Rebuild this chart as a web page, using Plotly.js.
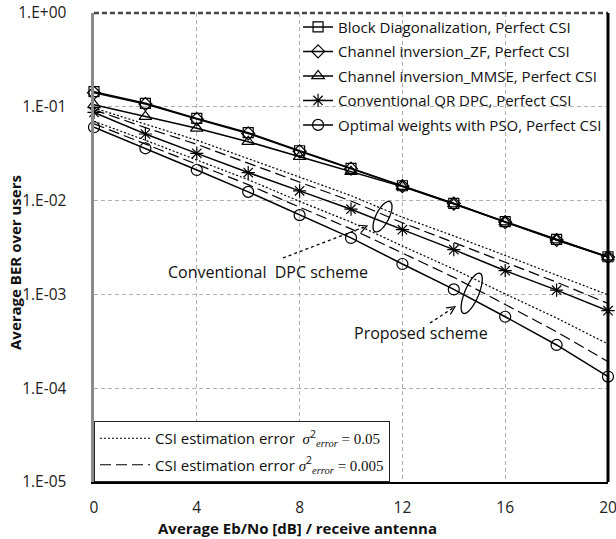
<!DOCTYPE html>
<html>
<head>
<meta charset="utf-8">
<script src="https://cdn.plot.ly/plotly-3.0.1.min.js"></script>
<style>html,body{margin:0;padding:0;background:#fff;}#chart{width:616px;height:539px;}</style>
</head>
<body>
<div id="chart"></div>
<script>
// ---- Data ----
const ebno = [0, 2, 4, 6, 8, 10, 12, 14, 16, 18, 20];
const berBD   = [0.145, 0.109, 0.0753, 0.053, 0.034, 0.0221, 0.0144, 0.00935, 0.00596, 0.00386, 0.00252];
const berZF   = [0.141, 0.107, 0.074, 0.052, 0.0335, 0.0219, 0.0143, 0.0093, 0.0059, 0.0038, 0.0025];
const berMMSE = [0.105, 0.0785, 0.059, 0.0425, 0.0294, 0.0203, 0.0141, 0.0092, 0.0059, 0.0038, 0.0025];
const berQR   = [0.087, 0.0513, 0.0319, 0.0199, 0.0127, 0.0081, 0.0049, 0.0030, 0.00179, 0.00111, 0.00067];
const berPSO  = [0.0605, 0.0361, 0.0212, 0.0124, 0.0070, 0.0040, 0.00211, 0.00113, 0.000578, 0.000289, 0.000133];
const berQR_err05   = [0.097, 0.065, 0.044, 0.028, 0.0178, 0.0113, 0.00665, 0.0042, 0.0026, 0.0016, 0.00099];
const berQR_err005  = [0.093, 0.060, 0.0398, 0.025, 0.0158, 0.0099, 0.0058, 0.0036, 0.0022, 0.00135, 0.0008];
const berPSO_err05  = [0.070, 0.044, 0.0271, 0.0167, 0.0098, 0.0059, 0.00328, 0.00186, 0.00101, 0.00056, 0.000296];
const berPSO_err005 = [0.066, 0.040, 0.0246, 0.0148, 0.0085, 0.0050, 0.00276, 0.00152, 0.00078, 0.0004, 0.000192];

const seriesNames = [
  'Block Diagonalization, Perfect CSI',
  'Channel inversion_ZF, Perfect CSI',
  'Channel inversion_MMSE, Perfect CSI',
  'Conventional QR DPC, Perfect CSI',
  'Optimal weights with PSO, Perfect CSI'
];
const errNames = [
  'CSI estimation error\u00a0 <i><span style="font-family:Liberation Serif">σ</span></i><sup>2</sup><sub><i><span style="font-family:Liberation Serif">error</span></i></sub><span style="font-family:Liberation Serif"> = 0.05</span>',
  'CSI estimation error\u00a0<i><span style="font-family:Liberation Serif">σ</span></i><sup>2</sup><sub><i><span style="font-family:Liberation Serif">error</span></i></sub><span style="font-family:Liberation Serif"> = 0.005</span>'
];
const yTickVals = [1, 0.1, 0.01, 0.001, 0.0001, 0.00001];
const yTickText = ['1.E+00', '1.E-01', '1.E-02', '1.E-03', '1.E-04', '1.E-05'];
const xTickVals = [0, 4, 8, 12, 16, 20];

// ---- Traces ----
const FONT = '"Open Sans", Lato, sans-serif';
const mk = (sym, size) => ({symbol: sym, size: size, color: 'black', line: {color: 'black', width: 1.2}});
const solid = {color: 'black', width: 1.5};

const traces = [];
function errTrace(y, dash, name, show) {
  return {x: ebno, y: y, type: 'scatter', mode: 'lines', name: name, showlegend: show,
          legend: 'legend2', legendgroup: 'e' + dash,
          line: {color: 'black', width: 1.2, dash: dash}, cliponaxis: false};
}
traces.push(errTrace(berQR_err05, '2px,2px', errNames[0], true));
traces.push(errTrace(berQR_err005, '11px,5px', errNames[1], true));
traces.push(errTrace(berPSO_err05, '2px,2px', errNames[0], false));
traces.push(errTrace(berPSO_err005, '11px,5px', errNames[1], false));

const mainY = [berBD, berZF, berMMSE, berQR, berPSO];
const mainSym = [['square-open', 10], ['diamond-open', 10], ['triangle-up-open', 11], ['asterisk-open', 11], ['circle-open', 11]];
mainY.forEach((y, i) => {
  traces.push({x: ebno, y: y, type: 'scatter', mode: 'lines+markers', name: seriesNames[i],
    legend: 'legend', legendgroup: 'g' + i, line: solid, marker: mk(mainSym[i][0], mainSym[i][1]), cliponaxis: false});
});

// ---- Layout helpers (pixel -> paper for decorative call-outs) ----
const L = 94, R = 8, T = 13, B = 57, W = 616, H = 539;
const pw = W - L - R, ph = H - T - B;
const px2x = p => (p - L) / pw;
const py2y = p => (H - B - p) / ph;

function ellipsePath(cx, cy, a, b, angDeg) {
  const t = angDeg * Math.PI / 180; let d = '';
  for (let k = 0; k <= 48; k++) {
    const u = 2 * Math.PI * k / 48;
    const ex = a * Math.cos(u), ey = b * Math.sin(u);
    const X = cx + ex * Math.cos(t) + ey * Math.sin(t);
    const Y = cy - ex * Math.sin(t) + ey * Math.cos(t);
    d += (k === 0 ? 'M' : 'L') + px2x(X).toFixed(5) + ',' + py2y(Y).toFixed(5);
  }
  return d + 'Z';
}
function arrowShapes(x0, y0, x1, y1) {
  const ang = Math.atan2(y1 - y0, x1 - x0), len = 9, spread = 0.45;
  const a1 = [x1 - len * Math.cos(ang - spread), y1 - len * Math.sin(ang - spread)];
  const a2 = [x1 - len * Math.cos(ang + spread), y1 - len * Math.sin(ang + spread)];
  return [
    {type: 'line', xref: 'paper', yref: 'paper', x0: px2x(x0), y0: py2y(y0), x1: px2x(x1), y1: py2y(y1),
     line: {color: 'black', width: 1.3, dash: 'dot'}},
    {type: 'path', xref: 'paper', yref: 'paper',
     path: 'M' + px2x(a1[0]) + ',' + py2y(a1[1]) + 'L' + px2x(x1) + ',' + py2y(y1) + 'L' + px2x(a2[0]) + ',' + py2y(a2[1]),
     line: {color: 'black', width: 1.2}}
  ];
}

const shapes = [
  // white backing behind the top legend (hides grid lines, keeps the frame visible)
  {type: 'rect', xref: 'paper', yref: 'paper', x0: px2x(297), x1: px2x(606), y0: py2y(142), y1: py2y(15),
   fillcolor: 'white', line: {width: 0}, layer: 'between'},
  {type: 'path', xref: 'paper', yref: 'paper', path: ellipsePath(382.5, 216.7, 16.8, 6.5, 63.4), line: {color: 'black', width: 1.3}},
  {type: 'path', xref: 'paper', yref: 'paper', path: ellipsePath(471.7, 293.3, 21.7, 7, 67.3), line: {color: 'black', width: 1.3}},
  ...arrowShapes(283, 258, 367, 226),
  ...arrowShapes(430, 323, 455, 306.7),
  {type: 'line', xref: 'paper', yref: 'paper', x0: 0, x1: 1, y0: 1, y1: 1, line: {color: '#444', width: 2.5, dash: '5px,3px'}, layer: 'above'},
  {type: 'line', xref: 'paper', yref: 'paper', x0: 1, x1: 1, y0: 0, y1: 1, line: {color: 'black', width: 3}, layer: 'above'}
];

const layout = {
  width: W, height: H,
  margin: {l: L, r: R, t: T, b: B},
  paper_bgcolor: 'white', plot_bgcolor: 'white',
  font: {family: FONT, color: '#111', size: 14},
  xaxis: {range: [0, 20], tickvals: xTickVals, ticks: '', ticklabelstandoff: 10, ticklabeloverflow: 'allow',
          showgrid: true, gridcolor: '#b0b0b0', griddash: '4px,3px', gridwidth: 1,
          showline: true, linecolor: 'black', linewidth: 2, zeroline: false,
          tickfont: {family: FONT, size: 15.5, color: '#222'}},
  yaxis: {type: 'log', range: [-5, 0], tickvals: yTickVals, ticktext: yTickText, ticks: '', ticklabelstandoff: 21,
          showgrid: true, gridcolor: '#b0b0b0', griddash: '4px,3px', gridwidth: 1,
          showline: true, linecolor: '#8a8a8a', linewidth: 3.5, zeroline: false,
          tickfont: {family: FONT, size: 15.5, color: '#222'}},
  showlegend: true,
  legend: {x: 0.397, y: 1.005, xanchor: 'left', yanchor: 'top', bgcolor: 'rgba(0,0,0,0)', borderwidth: 0,
           font: {family: FONT, size: 15, color: '#111'}, tracegroupgap: 2, itemwidth: 30},
  legend2: {x: 0, y: 0, xanchor: 'left', yanchor: 'bottom', bgcolor: 'white', bordercolor: '#222', borderwidth: 1,
            font: {family: FONT, size: 15, color: '#111'}, tracegroupgap: 4, itemwidth: 50},
  shapes: shapes,
  annotations: [
    {text: 'Conventional\u00a0 DPC scheme', xref: 'paper', yref: 'paper', x: px2x(267.5), y: py2y(271.7),
     showarrow: false, xanchor: 'center', yanchor: 'middle', font: {family: FONT, size: 16, color: '#111'}},
    {text: 'Proposed scheme', xref: 'paper', yref: 'paper', x: px2x(421), y: py2y(333),
     showarrow: false, xanchor: 'center', yanchor: 'middle', font: {family: FONT, size: 16, color: '#111'}},
    {text: '<b>Average Eb/No [dB] / receive antenna</b>', xref: 'paper', yref: 'paper', x: px2x(297), y: py2y(528),
     showarrow: false, xanchor: 'center', yanchor: 'middle', font: {family: FONT, size: 15, color: '#111'}},
    {text: '<b>Average BER over users</b>', xref: 'paper', yref: 'paper', x: px2x(15), y: py2y(263), textangle: -90,
     showarrow: false, xanchor: 'center', yanchor: 'middle', font: {family: FONT, size: 15, color: '#111'}}
  ]
};

Plotly.newPlot('chart', traces, layout, {staticPlot: true, displayModeBar: false});
</script>
</body>
</html>
